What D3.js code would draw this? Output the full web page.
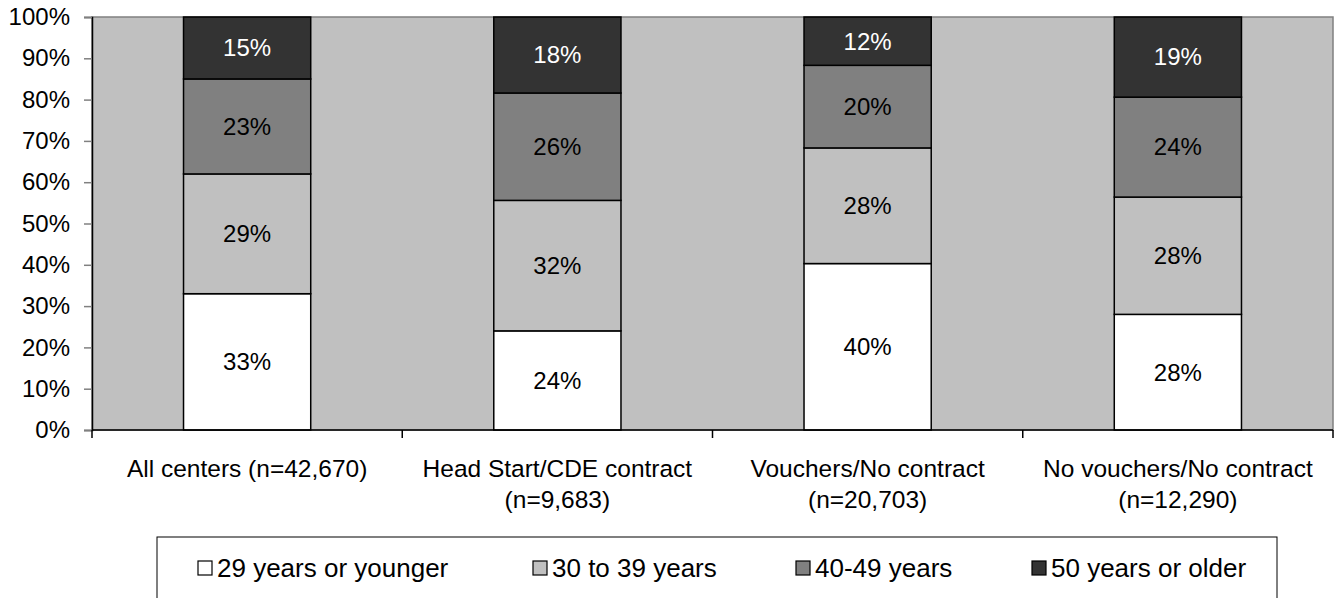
<!DOCTYPE html>
<html>
<head>
<meta charset="utf-8">
<script src="https://d3js.org/d3.v7.min.js"></script>
<style>
body { margin: 0; background: #fff; }
svg text { font-family: "Liberation Sans", Arial, sans-serif; }
</style>
</head>
<body>
<svg id="chart" width="1334" height="598"></svg>
<script>
// categories and values (percent of staff, by age group)
var categories = [
  ["All centers (n=42,670)"],
  ["Head Start/CDE contract", "(n=9,683)"],
  ["Vouchers/No contract", "(n=20,703)"],
  ["No vouchers/No contract", "(n=12,290)"]
];
var groups = ["29 years or younger", "30 to 39 years", "40-49 years", "50 years or older"];
var young = [33, 24, 40.3, 28];
var thirties = [29, 31.6, 28, 28.4];
var forties = [23, 26, 20, 24.2];
var older = [15, 18.4, 11.7, 19.4];
var yTicks = [0, 10, 20, 30, 40, 50, 60, 70, 80, 90, 100];

var fills = ["#ffffff", "#c0c0c0", "#808080", "#333333"];
var labelColors = ["#000", "#000", "#000", "#fff"];
var fs = 24;

var svg = d3.select("#chart"),
    margin = {top: 17, right: 1, bottom: 168, left: 92},
    width = +svg.attr("width") - margin.left - margin.right,
    height = +svg.attr("height") - margin.top - margin.bottom;

var x = d3.scaleBand()
    .domain(d3.range(categories.length))
    .range([margin.left, margin.left + width])
    .paddingInner(0.59).paddingOuter(0.295);

var xOuter = d3.scaleBand()
    .domain(d3.range(categories.length))
    .range([margin.left, margin.left + width]);

var y = d3.scaleLinear()
    .domain([0, 100])
    .range([margin.top + height, margin.top]);

// plot background
svg.append("rect")
    .attr("x", margin.left).attr("y", margin.top)
    .attr("width", width).attr("height", height)
    .attr("fill", "#c0c0c0")
    .attr("stroke", "#808080").attr("stroke-width", 1.5);

var rows = categories.map(function(c, i) {
  return {i: i, vals: [young[i], thirties[i], forties[i], older[i]]};
});

var stack = [];
rows.forEach(function(r) {
  var acc = 0;
  r.vals.forEach(function(v, k) {
    stack.push({i: r.i, k: k, y0: acc, y1: acc + v, v: v});
    acc += v;
  });
});

svg.append("g").selectAll("rect")
  .data(stack)
  .join("rect")
    .attr("x", d => x(d.i))
    .attr("width", x.bandwidth())
    .attr("y", d => y(d.y1))
    .attr("height", d => y(d.y0) - y(d.y1))
    .attr("fill", d => fills[d.k])
    .attr("stroke", "#000")
    .attr("stroke-width", 1.5);

svg.append("g").selectAll("text")
  .data(stack)
  .join("text")
    .attr("x", d => x(d.i) + x.bandwidth() / 2)
    .attr("y", d => y((d.y0 + d.y1) / 2))
    .attr("dy", "0.35em")
    .attr("text-anchor", "middle")
    .attr("font-size", fs)
    .attr("fill", d => labelColors[d.k])
    .text(d => Math.round(d.v) + "%");

// y axis
var yAxis = svg.append("g")
    .attr("transform", "translate(" + margin.left + ",0)")
    .call(d3.axisLeft(y).tickValues(yTicks).tickFormat(d => d + "%").tickSize(8).tickPadding(14));
yAxis.attr("font-size", fs).attr("font-family", null);
yAxis.selectAll("text").attr("fill", "#000");
yAxis.select(".domain").attr("stroke", "#000").attr("stroke-width", 1.5);
yAxis.selectAll(".tick line").attr("stroke", "#808080").attr("stroke-width", 1.5);

// x axis with ticks at category boundaries
var xAxisG = svg.append("g")
    .attr("transform", "translate(0," + (margin.top + height) + ")");
xAxisG.append("line")
    .attr("x1", margin.left).attr("x2", margin.left + width)
    .attr("stroke", "#000").attr("stroke-width", 1.5);
xAxisG.selectAll(".xt")
  .data(d3.range(categories.length + 1))
  .join("line")
    .attr("class", "xt")
    .attr("x1", d => d < categories.length ? xOuter(d) : margin.left + width)
    .attr("x2", d => d < categories.length ? xOuter(d) : margin.left + width)
    .attr("y1", 0).attr("y2", 8)
    .attr("stroke", "#000").attr("stroke-width", 1.5);

var catText = xAxisG.selectAll(".cat")
  .data(categories)
  .join("text")
    .attr("class", "cat")
    .attr("text-anchor", "middle")
    .attr("font-size", 24.5)
    .attr("fill", "#000")
    .attr("x", (d, i) => x(i) + x.bandwidth() / 2)
    .attr("y", 47);
catText.selectAll("tspan")
  .data(d => d)
  .join("tspan")
    .attr("x", function() { return d3.select(this.parentNode).attr("x"); })
    .attr("dy", (d, j) => j === 0 ? 0 : 31)
    .text(d => d);

// legend
var legend = svg.append("g");
legend.append("rect")
    .attr("x", 157).attr("y", 537)
    .attr("width", 1120).attr("height", 70)
    .attr("fill", "#fff").attr("stroke", "#000").attr("stroke-width", 1);

var legendX = [198, 533, 796, 1032];
var item = legend.selectAll(".li")
  .data(groups)
  .join("g")
    .attr("class", "li")
    .attr("transform", (d, i) => "translate(" + legendX[i] + ",568)");
item.append("rect")
    .attr("x", 0).attr("y", -7)
    .attr("width", 14).attr("height", 14)
    .attr("fill", (d, i) => fills[i])
    .attr("stroke", "#000").attr("stroke-width", 1.2);
item.append("text")
    .attr("x", 19).attr("dy", "0.35em")
    .attr("font-size", 26)
    .attr("fill", "#000")
    .text(d => d);
</script>
</body>
</html>
